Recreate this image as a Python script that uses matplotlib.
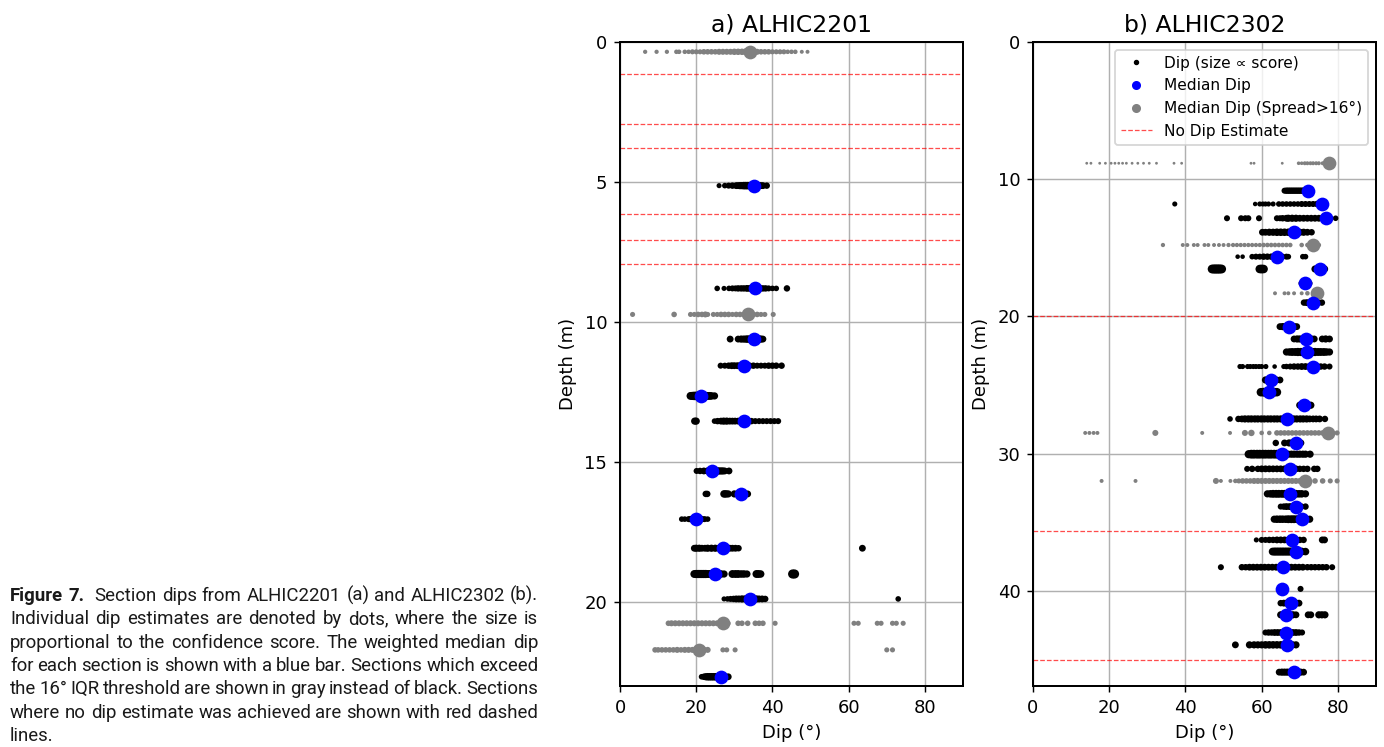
import numpy as np
import matplotlib.pyplot as plt
from matplotlib.lines import Line2D
from matplotlib.font_manager import FontProperties

# ---- panel a) ALHIC2201 ----
a_depth = [0.35, 5.13, 8.80, 9.73, 10.61, 11.56, 12.64, 13.54, 15.32, 16.14, 17.04, 18.08, 19.00, 19.89, 20.76, 21.71, 22.67]
a_median = [34.1, 35.2, 35.4, 33.5, 35.2, 32.6, 21.2, 32.6, 24.2, 31.8, 20.0, 26.9, 24.9, 34.1, 26.9, 20.8, 26.4]
a_spread = [1, 0, 0, 1, 0, 0, 0, 0, 0, 0, 0, 0, 0, 0, 1, 1, 0]
a_nodip = [1.15, 2.93, 3.80, 6.14, 7.07, 7.93]
a_dips = [
    [6.6, 9.6, 12.3, 14.8, 15.5, 17.0, 18.0, 19.0, 20.0, 21.0, 22.0, 23.0, 24.0, 25.0, 26.0, 27.0, 28.0, 29.0, 30.0, 31.0, 32.0, 33.0, 34.0, 35.0, 36.0, 37.0, 38.0, 39.0, 40.0, 41.0, 42.0, 43.0, 44.0, 45.0, 46.0, 47.7, 49.2],
    [26.0, 27.5, 28.5, 29.5, 30.5, 31.0, 31.5, 32.0, 32.5, 33.0, 33.5, 34.0, 34.5, 35.0, 35.5, 36.0, 36.5, 37.0, 37.5, 38.5],
    [25.5, 27.3, 28.6, 29.5, 30.3, 31.0, 31.8, 32.5, 33.3, 34.0, 35.0, 36.0, 36.8, 37.5, 38.2, 39.0, 40.0, 41.0, 43.8],
    [3.3, 14.2, 18.5, 19.5, 20.5, 21.5, 22.4, 23.0, 24.5, 25.5, 26.5, 27.5, 28.5, 29.5, 30.5, 31.5, 32.5, 34.0, 35.0, 36.0, 37.0, 38.0, 40.2],
    [28.9, 31.0, 31.8, 32.5, 33.2, 33.8, 34.5, 35.0, 35.8, 36.5, 37.0, 37.5],
    [26.4, 27.5, 28.5, 29.3, 30.0, 30.8, 31.5, 32.0, 33.0, 34.0, 35.0, 36.0, 37.0, 38.0, 39.0, 40.0, 41.0, 42.4],
    [18.5, 19.0, 19.5, 20.0, 20.5, 21.0, 21.5, 22.0, 22.5, 23.0, 23.5, 24.0, 24.8],
    [19.6, 20.0, 24.8, 25.6, 26.5, 27.2, 28.0, 28.8, 29.5, 30.2, 31.0, 31.8, 32.5, 33.5, 34.5, 35.5, 36.5, 37.5, 38.5, 39.5, 40.5, 41.5],
    [20.1, 21.0, 22.0, 23.0, 23.5, 24.0, 24.5, 25.0, 25.5, 26.0, 26.5, 27.0, 27.5, 28.6],
    [22.5, 22.9, 27.3, 27.8, 28.4, 30.0, 31.0, 31.8, 32.5, 33.5],
    [16.2, 17.0, 18.0, 18.5, 19.0, 19.5, 20.0, 20.5, 21.0, 21.5, 22.2, 23.0],
    [19.5, 20.0, 20.8, 21.5, 22.3, 23.0, 24.0, 25.0, 26.0, 27.0, 28.0, 28.8, 29.5, 30.3, 31.1, 63.6],
    [19.5, 20.0, 20.5, 21.0, 21.5, 22.0, 22.5, 23.0, 23.5, 24.0, 24.5, 25.0, 25.5, 26.0, 26.5, 27.3, 29.5, 30.3, 31.0, 31.8, 32.5, 33.3, 35.8, 36.3, 36.9, 45.3, 45.8],
    [27.3, 28.2, 29.0, 29.8, 30.5, 31.2, 32.0, 32.8, 33.5, 34.2, 35.0, 35.8, 36.5, 37.3, 38.1, 73.0],
    [12.7, 13.5, 14.5, 15.5, 16.5, 17.5, 18.5, 19.5, 20.5, 21.5, 22.5, 23.5, 24.5, 25.5, 26.5, 27.5, 28.3, 31.0, 32.0, 33.5, 35.5, 36.5, 37.5, 40.7, 61.4, 62.5, 67.5, 68.5, 71.5, 72.5, 74.3],
    [9.2, 10.0, 11.0, 12.0, 13.0, 14.0, 15.0, 16.0, 17.0, 18.0, 19.0, 20.0, 21.0, 22.0, 23.0, 27.0, 28.0, 30.2, 70.0, 71.5],
    [21.4, 22.0, 22.5, 23.0, 23.5, 24.0, 24.5, 25.0, 25.5, 26.0, 26.5, 27.0, 27.5, 28.4],
]
a_scores = [
    [0.35, 0.35, 0.35, 0.4, 0.4, 0.4, 0.4, 0.5, 0.5, 0.5, 0.6, 0.6, 0.6, 0.6, 0.7, 0.7, 0.7, 0.7, 0.8, 0.8, 0.8, 1.0, 0.8, 0.7, 0.7, 0.6, 0.6, 0.6, 0.5, 0.5, 0.5, 0.5, 0.4, 0.4, 0.4, 0.3, 0.3],
    [0.5, 0.6, 0.7, 0.8, 0.9, 0.9, 1.0, 1.0, 1.1, 1.1, 1.1, 1.1, 1.1, 1.1, 1.1, 1.0, 1.0, 0.9, 0.9, 0.8],
    [0.6, 0.5, 0.6, 0.7, 0.7, 0.8, 0.8, 0.8, 0.9, 0.9, 0.9, 0.9, 0.9, 0.8, 0.8, 0.7, 0.6, 0.6, 0.8],
    [0.5, 0.6, 0.5, 0.5, 0.6, 0.6, 0.7, 0.5, 0.5, 0.5, 0.6, 0.6, 0.6, 0.5, 0.6, 0.6, 0.6, 0.7, 0.6, 0.6, 0.5, 0.5, 0.5],
    [0.9, 0.9, 1.0, 1.0, 1.1, 1.1, 1.1, 1.1, 1.1, 1.1, 1.0, 0.9],
    [0.7, 0.7, 0.8, 0.9, 0.9, 0.9, 0.9, 1.0, 0.9, 0.8, 0.8, 0.7, 0.7, 0.7, 0.8, 0.8, 0.8, 0.8],
    [1.2, 1.3, 1.4, 1.4, 1.4, 1.4, 1.4, 1.3, 1.3, 1.2, 1.2, 1.1, 1.0],
    [1.0, 1.0, 0.6, 0.8, 0.9, 1.0, 1.0, 0.9, 0.9, 0.9, 0.9, 1.0, 1.0, 0.9, 0.8, 0.7, 0.7, 0.7, 0.7, 0.7, 0.7, 0.7],
    [0.7, 0.8, 0.9, 1.0, 1.0, 1.0, 1.1, 1.1, 1.1, 1.0, 1.0, 1.0, 0.9, 0.9],
    [0.8, 0.8, 1.1, 1.1, 1.0, 1.0, 1.1, 1.1, 1.0, 0.9],
    [0.6, 0.6, 0.7, 0.8, 0.9, 0.9, 1.0, 0.9, 0.9, 0.8, 0.7, 0.6],
    [0.9, 1.0, 1.0, 0.9, 0.9, 1.0, 1.0, 1.0, 1.0, 1.0, 1.0, 0.9, 0.9, 0.9, 0.8, 0.9],
    [1.2, 1.3, 1.3, 1.3, 1.3, 1.3, 1.3, 1.2, 1.2, 1.2, 1.2, 1.2, 1.2, 1.2, 1.1, 1.0, 1.2, 1.2, 1.2, 1.1, 1.1, 1.0, 1.2, 1.2, 1.1, 1.6, 1.6],
    [0.5, 0.6, 0.7, 0.8, 0.9, 0.9, 1.0, 1.0, 1.0, 1.0, 1.0, 1.0, 0.9, 0.9, 0.8, 0.6],
    [0.6, 0.7, 0.7, 0.7, 0.7, 0.7, 0.7, 0.7, 0.7, 0.7, 0.7, 0.7, 0.7, 0.7, 0.7, 0.7, 0.6, 0.6, 0.6, 0.6, 0.6, 0.6, 0.6, 0.5, 0.5, 0.5, 0.5, 0.5, 0.5, 0.5, 0.5],
    [0.6, 0.6, 0.6, 0.6, 0.6, 0.6, 0.7, 0.6, 0.7, 0.7, 0.7, 0.8, 0.8, 0.8, 0.7, 0.5, 0.5, 0.5, 0.5, 0.5],
    [0.6, 0.8, 1.0, 1.1, 1.1, 1.1, 1.1, 1.1, 1.1, 1.1, 1.0, 1.0, 1.0, 0.9],
]

# ---- panel b) ALHIC2302 ----
b_depth = [8.84, 10.84, 11.81, 12.85, 13.87, 14.80, 15.65, 16.55, 17.59, 18.32, 19.00, 20.75, 21.65, 22.60, 23.66, 24.64, 25.53, 26.48,
           27.48, 28.50, 29.23, 30.05, 31.12, 32.00, 32.94, 33.87, 34.79, 36.30, 37.15, 38.29, 39.87, 40.91, 41.76, 43.05, 43.95, 45.94]
b_median = [77.6, 72.2, 75.9, 76.9, 68.5, 73.4, 64.1, 75.2, 71.5, 74.6, 73.4, 67.2, 71.7, 72.0, 73.4, 62.4, 61.8, 71.1,
            66.7, 77.4, 68.9, 65.4, 67.4, 71.3, 67.4, 68.9, 70.5, 67.9, 69.1, 65.6, 65.4, 67.6, 66.3, 66.3, 66.7, 68.5]
b_spread = [1, 0, 0, 0, 0, 1, 0, 0, 0, 1, 0, 0, 0, 0, 0, 0, 0, 0,
            0, 1, 0, 0, 0, 1, 0, 0, 0, 0, 0, 0, 0, 0, 0, 0, 0, 0]
b_nodip = [19.97, 35.64, 45.04]
b_dips = [
    [14.1, 15.2, 17.5, 19.0, 20.5, 21.5, 22.5, 23.5, 24.5, 26.0, 27.5, 29.0, 30.5, 32.4, 37.0, 39.0, 57.2, 58.0, 65.4, 69.7, 70.5, 71.3, 72.0, 72.8, 73.5, 74.3, 75.0, 76.0, 77.0, 78.0],
    [66.0, 66.5, 67.0, 67.5, 68.0, 68.5, 69.0, 69.5, 70.0, 70.5, 71.0, 71.5, 72.0, 73.0],
    [37.2, 58.3, 59.5, 60.3, 61.0, 61.8, 63.0, 64.5, 65.5, 66.5, 67.5, 68.5, 69.5, 70.5, 71.5, 72.5, 73.5, 74.5, 75.5, 76.5],
    [50.9, 54.6, 55.7, 56.5, 59.3, 64.0, 64.8, 65.5, 66.5, 67.0, 68.0, 69.0, 70.0, 71.0, 72.0, 73.0, 74.0, 75.0, 76.0, 77.0, 78.0, 79.4],
    [60.2, 61.0, 62.0, 63.0, 64.0, 65.0, 66.0, 67.0, 68.0, 69.0, 70.0, 71.0, 72.0, 73.1],
    [34.1, 39.3, 40.5, 42.2, 43.2, 45.0, 46.0, 47.5, 48.8, 50.0, 51.3, 52.5, 53.5, 54.5, 55.5, 56.5, 57.5, 58.5, 59.5, 60.5, 61.5, 62.5, 63.5, 64.5, 65.5, 66.5, 67.5, 70.5, 72.0, 75.0],
    [53.7, 55.0, 57.5, 58.5, 59.5, 60.5, 61.5, 62.5, 63.5, 64.5, 65.5, 66.5, 67.0, 70.8, 71.5],
    [47.0, 47.5, 48.0, 48.5, 49.0, 49.5, 59.5, 60.0, 60.5, 74.0, 75.5, 76.5],
    [70.5, 71.0, 71.5, 72.0, 72.5],
    [63.5, 66.0, 67.0, 68.5, 70.5, 72.0, 74.0, 75.0],
    [71.1, 71.8, 72.5, 73.2, 74.0, 74.8, 75.8],
    [64.8, 65.5, 66.2, 67.0, 67.8, 68.5, 69.2],
    [68.5, 69.3, 70.0, 70.8, 71.5, 72.3, 73.0, 73.8, 75.9, 76.8, 77.8],
    [66.5, 67.3, 68.0, 68.8, 69.5, 70.3, 71.0, 71.8, 72.5, 73.3, 74.0, 74.8, 75.5, 76.3, 77.0, 77.8],
    [54.3, 55.0, 56.3, 57.0, 57.8, 58.5, 59.3, 60.0, 61.1, 63.4, 65.8, 66.5, 67.5, 68.5, 69.5, 70.5, 71.5, 72.5, 73.5, 74.5, 75.5, 76.5, 77.8],
    [61.0, 61.7, 62.4, 63.1, 63.8, 64.8],
    [59.8, 60.5, 61.2, 61.9, 62.6, 63.3, 64.0],
    [70.0, 70.8, 71.5, 72.2, 72.9],
    [51.7, 53.9, 54.8, 55.6, 56.5, 57.3, 58.2, 59.0, 59.9, 60.7, 61.6, 62.4, 63.3, 64.1, 65.0, 65.8, 66.7, 67.5, 68.4, 69.2, 70.1, 70.9, 71.8, 72.6, 73.5, 74.3, 75.2, 76.6],
    [13.7, 14.8, 15.9, 16.9, 32.1, 44.4, 51.7, 55.6, 57.3, 60.0, 62.0, 64.0, 65.0, 66.0, 67.0, 68.0, 69.0, 70.0, 71.0, 72.0, 73.0, 74.0, 75.0, 76.0, 78.5, 79.8],
    [63.7, 66.0, 67.2, 68.0, 68.8, 69.6, 70.3],
    [56.6, 57.3, 58.0, 58.8, 59.5, 60.3, 61.0, 61.8, 62.5, 63.3, 64.0, 64.8, 65.5, 66.3, 67.0, 67.8, 68.5, 69.3, 70.0, 70.8, 71.5, 72.7],
    [56.2, 57.5, 59.0, 60.0, 61.0, 62.0, 63.0, 64.0, 65.0, 66.0, 67.0, 68.0, 69.0, 70.0, 71.0, 72.0, 73.8, 74.6],
    [18.0, 26.9, 48.0, 49.3, 51.8, 53.1, 54.0, 55.0, 56.0, 57.0, 58.0, 59.0, 60.0, 61.0, 62.0, 63.0, 64.0, 65.0, 66.0, 67.0, 68.0, 69.0, 70.0, 72.0, 74.0, 76.0, 78.0, 79.8],
    [61.5, 62.3, 63.0, 63.8, 64.5, 65.3, 66.0, 66.8, 67.5, 68.3, 69.0, 69.8, 70.5, 71.5],
    [65.0, 65.8, 66.5, 67.3, 68.0, 68.8, 69.5, 70.3, 71.5],
    [63.3, 64.0, 64.8, 65.5, 66.3, 67.0, 67.8, 68.5, 69.3, 70.0, 70.8, 71.5, 72.6],
    [58.6, 60.0, 61.0, 62.0, 63.0, 64.0, 65.0, 66.0, 67.0, 68.0, 69.0, 70.0, 71.0, 75.9, 76.5],
    [62.9, 63.5, 64.2, 64.9, 65.6, 66.3, 67.0, 67.7, 68.4, 69.1, 69.8, 70.5, 71.5],
    [49.3, 54.8, 55.8, 56.8, 57.8, 58.8, 59.8, 60.8, 61.8, 62.8, 63.8, 64.8, 65.8, 66.8, 67.8, 68.8, 69.8, 70.8, 72.0, 73.0, 74.0, 75.0, 76.0, 77.0, 78.5],
    [65.0, 70.2],
    [65.0, 65.8, 66.6, 67.4, 68.2, 69.0, 69.8],
    [65.0, 65.8, 66.6, 67.4, 68.2, 69.0, 72.2, 72.9, 75.0, 75.8, 76.6],
    [61.0, 61.8, 62.6, 63.4, 64.2, 65.0, 65.8, 66.6, 67.4, 68.2, 69.0, 69.8, 70.6],
    [53.1, 56.8, 58.0, 59.0, 60.0, 61.0, 62.0, 63.0, 64.0, 65.0, 66.0, 67.0, 68.0, 69.0],
    [64.6, 65.3, 66.0, 66.7, 67.4, 68.1, 68.8, 69.5, 70.2, 71.0],
]
b_scores = [
    [0.15, 0.15, 0.15, 0.15, 0.15, 0.15, 0.15, 0.15, 0.15, 0.15, 0.15, 0.15, 0.15, 0.15, 0.15, 0.15, 0.15, 0.15, 0.15, 0.25, 0.25, 0.3, 0.3, 0.3, 0.3, 0.3, 0.3, 0.3, 0.3, 0.3],
    [0.7, 0.8, 0.8, 0.8, 0.8, 0.8, 0.8, 0.8, 0.8, 0.8, 0.8, 0.8, 0.8, 0.7],
    [0.5, 0.4, 0.5, 0.5, 0.5, 0.5, 0.5, 0.6, 0.6, 0.6, 0.6, 0.6, 0.6, 0.7, 0.7, 0.7, 0.7, 0.8, 0.8, 0.8],
    [0.7, 0.7, 0.7, 0.7, 0.7, 0.7, 0.7, 0.8, 0.9, 1.0, 1.0, 1.0, 0.9, 0.9, 0.9, 0.9, 0.9, 0.9, 0.9, 0.8, 0.7, 0.6],
    [0.9, 0.9, 1.0, 1.0, 1.1, 1.1, 1.1, 1.1, 1.1, 1.1, 1.0, 1.0, 0.9, 0.8],
    [0.35, 0.3, 0.3, 0.3, 0.3, 0.3, 0.3, 0.3, 0.3, 0.3, 0.35, 0.35, 0.35, 0.35, 0.35, 0.35, 0.35, 0.35, 0.35, 0.4, 0.4, 0.4, 0.4, 0.4, 0.4, 0.4, 0.4, 0.4, 0.4, 0.4],
    [0.4, 0.4, 0.6, 0.7, 0.7, 0.8, 0.8, 0.8, 0.8, 0.8, 0.7, 0.7, 0.6, 0.6, 0.6],
    [1.5, 1.6, 1.6, 1.6, 1.6, 1.5, 1.4, 1.5, 1.4, 1.0, 1.0, 1.0],
    [0.8, 0.9, 0.9, 0.9, 0.8],
    [0.3, 0.3, 0.3, 0.3, 0.3, 0.4, 0.4, 0.4],
    [0.8, 0.9, 0.9, 1.0, 1.0, 0.9, 0.8],
    [0.9, 1.0, 1.0, 1.1, 1.0, 1.0, 0.9],
    [0.9, 1.0, 1.0, 1.0, 1.0, 1.0, 1.0, 0.9, 0.9, 1.0, 0.9],
    [1.0, 1.1, 1.2, 1.2, 1.3, 1.3, 1.3, 1.3, 1.3, 1.3, 1.3, 1.2, 1.2, 1.2, 1.1, 1.0],
    [0.5, 0.5, 0.5, 0.5, 0.5, 0.5, 0.5, 0.5, 0.5, 0.4, 0.5, 0.6, 0.7, 0.8, 0.8, 0.9, 0.9, 0.9, 0.9, 0.9, 0.8, 0.8, 0.7],
    [1.0, 1.0, 1.0, 1.0, 1.0, 0.9],
    [1.4, 1.5, 1.6, 1.6, 1.6, 1.5, 1.4],
    [1.0, 1.1, 1.1, 1.1, 1.0],
    [0.6, 0.8, 0.9, 1.0, 1.0, 1.0, 1.0, 1.0, 1.0, 1.0, 1.0, 1.0, 1.0, 1.0, 1.0, 1.0, 1.0, 1.0, 1.0, 1.0, 1.0, 1.0, 1.0, 0.9, 0.9, 0.9, 0.9, 0.8],
    [0.3, 0.3, 0.3, 0.3, 0.7, 0.3, 0.3, 0.7, 0.8, 0.4, 0.4, 0.6, 0.6, 0.6, 0.6, 0.6, 0.6, 0.6, 0.6, 0.6, 0.6, 0.6, 0.6, 0.6, 0.6, 0.5],
    [0.8, 0.9, 1.0, 1.0, 1.0, 1.0, 0.9],
    [1.3, 1.5, 1.5, 1.5, 1.5, 1.5, 1.5, 1.5, 1.5, 1.5, 1.5, 1.4, 1.2, 1.1, 1.0, 1.0, 1.0, 1.0, 1.0, 1.0, 1.0, 1.0],
    [0.7, 0.8, 0.8, 0.9, 0.9, 0.9, 0.9, 0.9, 0.9, 0.9, 0.9, 0.9, 0.9, 0.8, 0.8, 0.8, 0.8, 0.8],
    [0.3, 0.3, 0.7, 0.3, 0.3, 0.4, 0.5, 0.6, 0.6, 0.6, 0.7, 0.7, 0.7, 0.7, 0.7, 0.7, 0.7, 0.7, 0.7, 0.7, 0.7, 0.7, 0.7, 0.6, 0.6, 0.6, 0.5, 0.5],
    [1.0, 1.1, 1.2, 1.2, 1.2, 1.2, 1.2, 1.2, 1.2, 1.2, 1.2, 1.1, 1.1, 1.0],
    [0.7, 0.8, 0.9, 0.9, 1.0, 1.0, 0.9, 0.9, 0.8],
    [1.0, 1.1, 1.1, 1.1, 1.1, 1.2, 1.2, 1.2, 1.2, 1.2, 1.2, 1.1, 1.0],
    [0.5, 0.7, 0.7, 0.8, 0.8, 0.9, 0.9, 0.9, 0.9, 0.9, 0.9, 0.8, 0.8, 0.9, 0.9],
    [1.2, 1.3, 1.3, 1.3, 1.3, 1.3, 1.3, 1.3, 1.3, 1.3, 1.3, 1.2, 1.1],
    [0.7, 0.8, 0.8, 0.9, 0.9, 0.9, 0.9, 0.9, 0.9, 0.9, 0.9, 0.9, 0.9, 0.9, 0.9, 0.9, 0.9, 0.9, 0.8, 0.8, 0.8, 0.8, 0.8, 0.8, 0.7],
    [0.8, 0.7],
    [0.8, 0.9, 1.0, 1.0, 1.0, 1.0, 0.9],
    [1.0, 1.0, 1.0, 1.0, 1.0, 0.9, 0.9, 0.9, 1.0, 1.0, 1.0],
    [0.7, 0.8, 0.8, 0.9, 0.9, 0.9, 0.9, 0.9, 0.9, 0.9, 0.9, 0.8, 0.7],
    [0.9, 1.0, 1.0, 1.0, 1.0, 1.1, 1.1, 1.1, 1.1, 1.1, 1.1, 1.1, 1.1, 1.0],
    [0.9, 1.0, 1.0, 1.0, 1.0, 1.0, 1.0, 1.0, 1.0, 0.9],
]

caption_lines = [
    "Figure 7.  Section dips from ALHIC2201 (a) and ALHIC2302 (b).",
    "Individual dip estimates are denoted by dots, where the size is",
    "proportional to the confidence score. The weighted median dip",
    "for each section is shown with a blue bar. Sections which exceed",
    "the 16\u00b0 IQR threshold are shown in gray instead of black. Sections",
    "where no dip estimate was achieved are shown with red dashed",
    "lines.",
]

DPI = 130
W, H = 1384, 747
plt.rcParams['font.family'] = 'DejaVu Sans'
plt.rcParams['axes.linewidth'] = 1.1
fig = plt.figure(figsize=(W / DPI, H / DPI), dpi=DPI)

ax_a = fig.add_axes([620 / W, 1 - 686 / H, 343 / W, 644 / H])
ax_b = fig.add_axes([1033 / W, 1 - 686 / H, 343 / W, 644 / H])


def draw_panel(ax, depth, median, spread, dips, scores, nodip, title, ymax):
    for d, med, sp, dl, sl in zip(depth, median, spread, dips, scores):
        col = 'gray' if sp else 'black'
        ax.scatter(dl, [d] * len(dl), s=np.array(sl) * 16, color=col, linewidths=0, zorder=2)
        ax.scatter([med], [d], s=58, color='gray' if sp else 'blue', linewidths=0, zorder=3)
    for y in nodip:
        ax.axhline(y, color='red', ls='--', lw=0.7, alpha=0.7, zorder=2)
    ax.set_xlim(0, 90)
    ax.set_ylim(ymax, 0)
    ax.set_xticks([0, 20, 40, 60, 80])
    ax.grid(True)
    ax.set_title(title, fontsize=13, pad=6)
    ax.set_xlabel('Dip (\u00b0)', fontsize=10)
    ax.set_ylabel('Depth (m)', fontsize=10)
    ax.tick_params(labelsize=10)


draw_panel(ax_a, a_depth, a_median, a_spread, a_dips, a_scores, a_nodip, 'a) ALHIC2201', 23.0)
draw_panel(ax_b, b_depth, b_median, b_spread, b_dips, b_scores, b_nodip, 'b) ALHIC2302', 46.95)
ax_a.set_yticks([0, 5, 10, 15, 20])
ax_b.set_yticks([0, 10, 20, 30, 40])

handles = [
    Line2D([], [], ls='', marker='o', color='black', markersize=2),
    Line2D([], [], ls='', marker='o', color='blue', markersize=4),
    Line2D([], [], ls='', marker='o', color='gray', markersize=4),
    Line2D([], [], ls='--', color='red', lw=0.7, alpha=0.7),
]
labels = ['Dip (size \u221d score)', 'Median Dip', 'Median Dip (Spread>16\u00b0)', 'No Dip Estimate']
ax_b.legend(handles, labels, loc='upper right', fontsize=8.5)

# caption, justified between x=10 and x=538 px
renderer = fig.canvas.get_renderer()
left, right = 10, 538
fp_reg = FontProperties(family='Roboto', weight='normal', size=10.3)
fp_bold = FontProperties(family='Roboto', weight='bold', size=10.3)
for i, line in enumerate(caption_lines):
    words = line.split()
    y = 1 - (601 + i * 23.33) / H
    texts = []
    for j, w in enumerate(words):
        fp = fp_bold if (i == 0 and j < 2) else fp_reg
        texts.append(fig.text(0, y, w, fontproperties=fp, va='baseline', color='#1a1a1a'))
    widths = [t.get_window_extent(renderer).width for t in texts]
    extra = 5 if i == 0 else 0
    if i < len(caption_lines) - 1 and len(words) > 1:
        gap = max((right - left - extra - sum(widths)) / (len(words) - 1), 2)
    else:
        gap = 4.5
    x = left
    for j, (t, wd) in enumerate(zip(texts, widths)):
        t.set_x(x / W)
        x += wd + gap
        if i == 0 and j == 1:
            x += extra

fig.savefig('out.png', dpi=DPI)
